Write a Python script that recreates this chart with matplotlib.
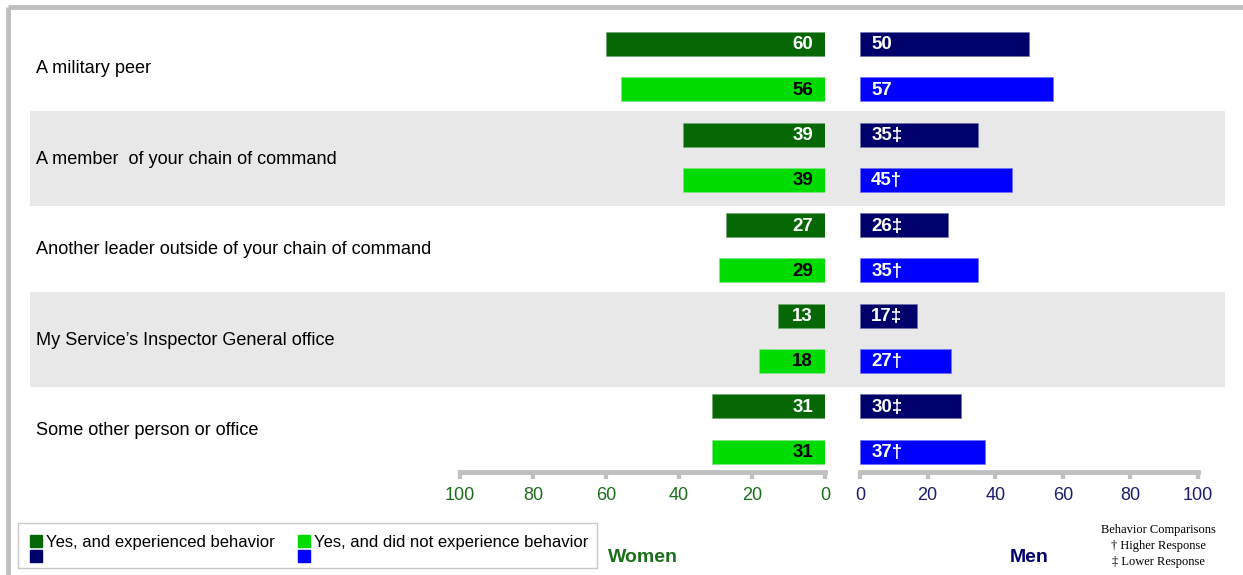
import numpy as np
import matplotlib.pyplot as plt
from matplotlib.patches import Rectangle

# ─── Data ─────────────────────────────────────────────────────────────────────
CATEGORIES = [
    "A military peer",
    "A member  of your chain of command",
    "Another leader outside of your chain of command",
    "My Service\u2019s Inspector General office",
    "Some other person or office",
]
WOMEN_EXP  = [60, 39, 27, 13, 31]
WOMEN_NOT  = [56, 39, 29, 18, 31]
MEN_EXP    = [50, 35, 26, 17, 30]
MEN_NOT    = [57, 45, 35, 27, 37]
MEN_EXP_FLAG = ["", "\u2021", "\u2021", "\u2021", "\u2021"]
MEN_NOT_FLAG = ["", "\u2020", "\u2020", "\u2020", "\u2020"]
TICKS = [0, 20, 40, 60, 80, 100]
LEGEND_LABELS = ["Yes, and experienced behavior", "Yes, and did not experience behavior"]

DKGREEN, LTGREEN = "#056805", "#00dc00"
NAVY, BLUE       = "#00006a", "#0000ff"
WTICK, MTICK     = "#1b6e1b", "#1c1c6e"
GRAY, BAND       = "#c0c0c0", "#e8e8e8"

plt.rcParams["font.family"] = ["Liberation Sans", "DejaVu Sans"]

W, H = 1243, 575
fig = plt.figure(figsize=(W / 100, H / 100), dpi=100)

def px_axes(x0, y0, x1, y1, **kw):
    return fig.add_axes([x0 / W, 1 - y1 / H, (x1 - x0) / W, (y1 - y0) / H], **kw)

# ─── Overlay (frame, legend, captions) ────────────────────────────────────────
ov = px_axes(0, 0, W, H)
ov.set_xlim(0, W)
ov.set_ylim(H, 0)
ov.axis("off")
ov.plot([8, W], [6.5, 6.5], color=GRAY, lw=3.5, solid_capstyle="butt")
ov.plot([8, 8], [6.5, H], color=GRAY, lw=3.5, solid_capstyle="butt")

ov.add_patch(Rectangle((18, 523), 579, 45, fill=False, ec="#c8c8c8", lw=1))
for (x, top, bot, lab) in [(30, DKGREEN, NAVY, LEGEND_LABELS[0]),
                           (298, LTGREEN, BLUE, LEGEND_LABELS[1])]:
    ov.add_patch(Rectangle((x, 535), 12, 12, color=top))
    ov.add_patch(Rectangle((x, 550), 12, 12, color=bot))
    ov.text(x + 16, 542, lab, fontsize=12, va="center", ha="left")

ov.text(608, 558, "Women", fontsize=14, fontweight="bold", color=WTICK,
        va="center", ha="left")
ov.text(1010, 558, "Men", fontsize=14, fontweight="bold", color=NAVY,
        va="center", ha="left")
ov.text(1158, 546, "Behavior Comparisons\n\u2020 Higher Response\n\u2021 Lower Response",
        family=["Liberation Serif", "DejaVu Serif"], fontsize=9, ha="center",
        va="center", linespacing=1.4)

# ─── Rows ─────────────────────────────────────────────────────────────────────
n = len(CATEGORIES)
y_exp = np.arange(n) * 2
y_not = y_exp + 1
YLIM = (9.45, -0.53)
BAR_H = 0.53

bg = px_axes(30, 20, 1225, 472)
bg.set_xlim(30, 1225)
bg.set_ylim(*YLIM)
bg.axis("off")
for g in (1, 3):
    bg.axhspan(2 * g - 0.53, 2 * g + 1.57, color=BAND, lw=0)
for g, cat in enumerate(CATEGORIES):
    bg.text(36, 2 * g + 0.54, cat, fontsize=13.1, va="center", ha="left")

def style_axis(ax, color):
    ax.set_ylim(*YLIM)
    ax.set_facecolor("none")
    for s in ("top", "left", "right"):
        ax.spines[s].set_visible(False)
    ax.spines["bottom"].set_color(GRAY)
    ax.spines["bottom"].set_linewidth(3.5)
    ax.set_yticks([])
    ax.set_xticks(TICKS)
    ax.tick_params(axis="x", colors=GRAY, width=3, length=5, pad=6,
                   labelsize=13, labelcolor=color)

# Women
aw = px_axes(460, 20, 825, 472)
aw.set_xlim(100, 0)
style_axis(aw, WTICK)
aw.barh(y_exp, WOMEN_EXP, height=BAR_H, color=DKGREEN, ec="#6fa86f", lw=0.5)
aw.barh(y_not, WOMEN_NOT, height=BAR_H, color=LTGREEN, ec="#7ee87e", lw=0.5)
for ys, vals, tc in [(y_exp, WOMEN_EXP, "white"), (y_not, WOMEN_NOT, "black")]:
    for y, v in zip(ys, vals):
        aw.text(3.3, y + 0.02, f"{v}", ha="right", va="center", color=tc,
                fontsize=13.5, fontweight="bold")

# Men
am = px_axes(860, 20, 1198, 472)
am.set_xlim(0, 100)
style_axis(am, MTICK)
am.barh(y_exp, MEN_EXP, height=BAR_H, color=NAVY, ec="#7070b0", lw=0.5)
am.barh(y_not, MEN_NOT, height=BAR_H, color=BLUE, ec="#7070ff", lw=0.5)
for ys, vals, flags in [(y_exp, MEN_EXP, MEN_EXP_FLAG), (y_not, MEN_NOT, MEN_NOT_FLAG)]:
    for y, v, f in zip(ys, vals, flags):
        am.text(3.3, y + 0.02, f"{v}{f}", ha="left", va="center", color="white",
                fontsize=13.5, fontweight="bold")

plt.savefig("out.png", dpi=100)
